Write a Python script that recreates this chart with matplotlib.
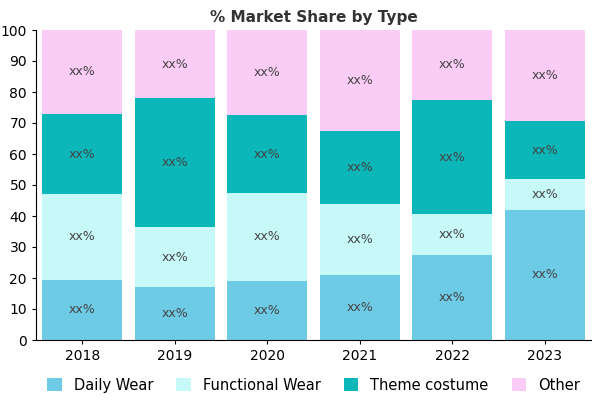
import matplotlib
matplotlib.use("Agg")
import matplotlib.pyplot as plt
import numpy as np

years = ["2018", "2019", "2020", "2021", "2022", "2023"]
daily = [19.5, 17, 19, 21, 27.5, 42]
functional = [27.5, 19.5, 28.5, 23, 13, 10]
theme = [26, 41.5, 25, 23.5, 37, 18.5]
other = [27, 22, 27.5, 32.5, 22.5, 29.5]
names = ["Daily Wear", "Functional Wear", "Theme costume", "Other"]
colors = ["#6ECBE6", "#C8F9F9", "#0BB7B9", "#FBCDF6"]

fig, ax = plt.subplots(figsize=(6, 4), dpi=100)
fig.subplots_adjust(left=0.06, right=0.985, top=0.925, bottom=0.15)
x = np.arange(len(years))
bottom = np.zeros(len(years))
for vals, c, n in zip([daily, functional, theme, other], colors, names):
    ax.bar(x, vals, 0.87, bottom=bottom, color=c, label=n)
    for xi, b, v in zip(x, bottom, vals):
        ax.text(xi, b + v / 2, "xx%", ha="center", va="center", fontsize=9, color="#444444")
    bottom += np.array(vals)
ax.set_xlim(-0.5, 5.5)
ax.set_ylim(0, 100)
ax.set_yticks(range(0, 101, 10))
ax.set_xticks(x)
ax.set_xticklabels(years)
ax.tick_params(labelsize=10, length=3)
for s in ["top", "right"]:
    ax.spines[s].set_visible(False)
ax.set_title("% Market Share by Type", fontsize=11, fontweight="bold", color="#333333")
ax.legend(loc="upper center", bbox_to_anchor=(0.5, -0.08), ncol=4, frameon=False,
          fontsize=10.5, handlelength=1.0, handleheight=1.0, columnspacing=1.6)
fig.savefig("out.png")
